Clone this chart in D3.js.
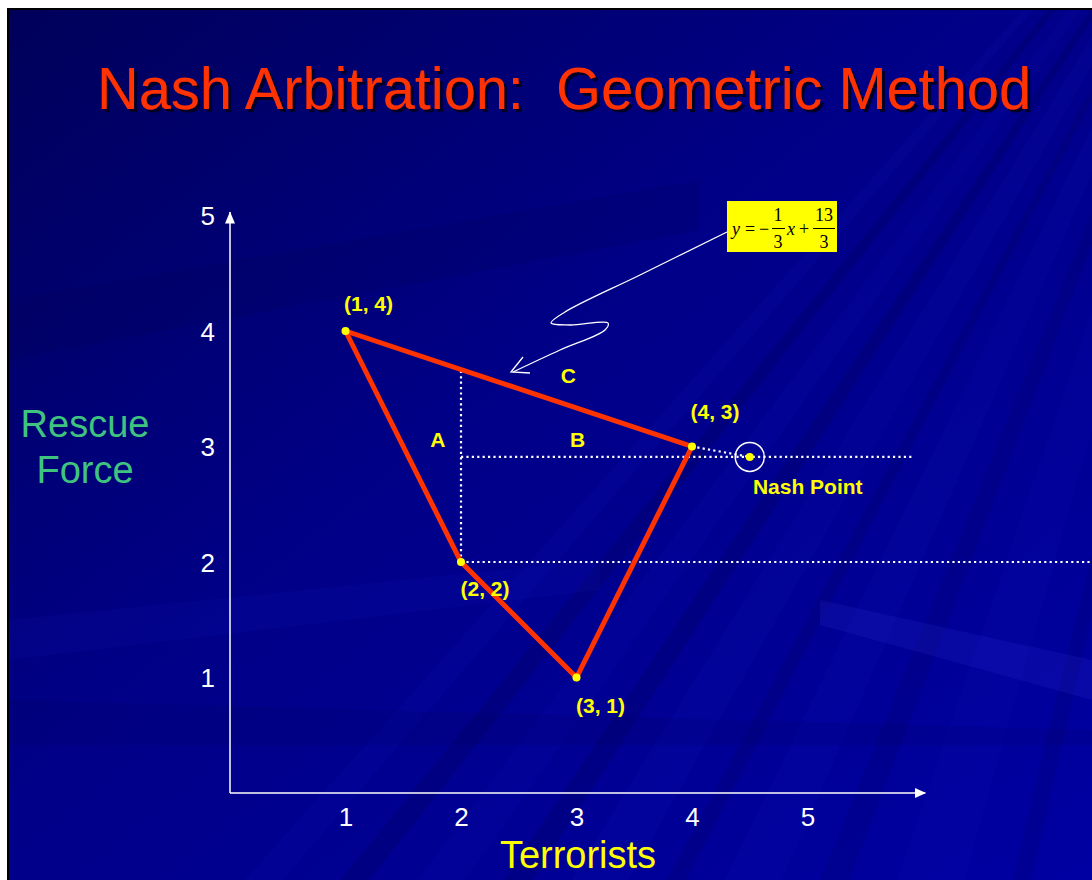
<!DOCTYPE html>
<html>
<head>
<meta charset="utf-8">
<script src="https://cdn.jsdelivr.net/npm/d3@7"></script>
<style>
  html, body { margin: 0; padding: 0; background: #fff; }
  svg { display: block; }
</style>
</head>
<body>
<div id="chart"></div>
<script>
// ---- data ----
var vertexX = [1, 4, 3, 2];
var vertexY = [4, 3, 1, 2];
var vertexLabels = ["(1, 4)", "(4, 3)", "(3, 1)", "(2, 2)"];
var statusQuo = [2, 2];
var nashPoint = [4.5, 2.91];
var xTicks = [1, 2, 3, 4, 5];
var yTicks = [1, 2, 3, 4, 5];
var regionLabels = ["A", "B", "C"];
var regionX = [1.8, 3.01, 2.93];
var regionY = [3.0, 3.0, 3.55];

var W = 1092, H = 880;
var sans = "'Liberation Sans', Arial, sans-serif";
var serif = "'Liberation Serif', 'Times New Roman', serif";
var svg = d3.select("#chart").append("svg").attr("width", W).attr("height", H)
    .style("font-family", sans);

// ---- background ----
var defs = svg.append("defs");
var bg = defs.append("linearGradient").attr("id", "bg")
    .attr("x1", "0").attr("y1", "0").attr("x2", "1").attr("y2", "1");
bg.append("stop").attr("offset", "0").attr("stop-color", "#00005a");
bg.append("stop").attr("offset", "0.45").attr("stop-color", "#000088");
bg.append("stop").attr("offset", "1").attr("stop-color", "#0000a2");

var shadow = defs.append("filter").attr("id", "shadow")
    .attr("x", "-5%").attr("y", "-20%").attr("width", "110%").attr("height", "140%");
shadow.append("feDropShadow").attr("dx", 3).attr("dy", 3).attr("stdDeviation", 0)
    .attr("flood-color", "#000028").attr("flood-opacity", 1);

svg.append("rect").attr("x", 8).attr("y", 9).attr("width", W - 8).attr("height", H - 9)
    .attr("fill", "url(#bg)");

var clip = defs.append("clipPath").attr("id", "frame");
clip.append("rect").attr("x", 8).attr("y", 9).attr("width", W - 8).attr("height", H - 9);

var rays = svg.append("g").attr("clip-path", "url(#frame)");
// faint streaks fanning out from top-right
var fx = 1300, fy = -300;
var streaks = [
  [200, 240, "#3040ff", 0.05], [300, 330, "#000030", 0.15], [380, 430, "#2030ff", 0.05],
  [470, 500, "#000030", 0.15], [540, 600, "#3040ff", 0.04], [640, 660, "#000030", 0.12],
  [700, 760, "#3040ff", 0.045], [800, 830, "#000040", 0.12], [880, 950, "#2a3aff", 0.04],
  [1000, 1020, "#000040", 0.12]
];
streaks.forEach(function (s) {
  var a0 = Math.atan2(H + 50 - fy, -fx + s[0]), a1 = Math.atan2(H + 50 - fy, -fx + s[1]);
  rays.append("path")
    .attr("d", "M" + fx + "," + fy + "L" + (fx + 2000 * Math.cos(a0)) + "," + (fy + 2000 * Math.sin(a0)) +
      "L" + (fx + 2000 * Math.cos(a1)) + "," + (fy + 2000 * Math.sin(a1)) + "Z")
    .attr("fill", s[2]).attr("opacity", s[3]);
});
// shallow bands on the left half
rays.append("path").attr("d", "M8,300L700,180L700,230L8,360Z").attr("fill", "#000040").attr("opacity", 0.12);
rays.append("path").attr("d", "M8,620L600,560L600,590L8,660Z").attr("fill", "#3040ff").attr("opacity", 0.05);
// band on the lower right
rays.append("path").attr("d", "M820,600L1092,660L1092,700L820,625Z")
    .attr("fill", "#4a5aff").attr("opacity", 0.1);
rays.append("path").attr("d", "M8,700L1092,730L1092,745L8,745Z")
    .attr("fill", "#000040").attr("opacity", 0.1);

// frame line
svg.append("path").attr("d", "M8," + H + "L8,9L" + W + ",9")
    .attr("fill", "none").attr("stroke", "#000").attr("stroke-width", 2);

// ---- title ----
svg.append("text").attr("x", 97).attr("y", 109).text("Nash Arbitration:  Geometric Method")
    .attr("font-size", 58.5).attr("fill", "#ff3300")
    .attr("textLength", 934).attr("lengthAdjust", "spacingAndGlyphs")
    .attr("filter", "url(#shadow)")
    .style("white-space", "pre");

// ---- scales ----
var x = d3.scaleLinear().domain([0, 6]).range([230, 923]);
var y = d3.scaleLinear().domain([0, 5]).range([793, 215.5]);

var g = svg.append("g");

// axes lines with arrows
g.append("line").attr("x1", x(0)).attr("y1", y(0)).attr("x2", x(6.02)).attr("y2", y(0))
    .attr("stroke", "#fff").attr("stroke-width", 1.5);
g.append("line").attr("x1", x(0)).attr("y1", y(0)).attr("x2", x(0)).attr("y2", y(5.03))
    .attr("stroke", "#fff").attr("stroke-width", 1.5);
g.append("path").attr("d", "M" + (x(6) - 8) + "," + (y(0) - 5) + "L" + (x(6) + 3) + "," + y(0) + "L" + (x(6) - 8) + "," + (y(0) + 5) + "Z")
    .attr("fill", "#fff");
g.append("path").attr("d", "M" + (x(0) - 5) + "," + (y(5) + 8) + "L" + x(0) + "," + (y(5) - 4) + "L" + (x(0) + 5) + "," + (y(5) + 8) + "Z")
    .attr("fill", "#fff");

// tick labels through d3 axes
var xAxis = g.append("g").attr("transform", "translate(0," + y(0) + ")")
    .call(d3.axisBottom(x).tickValues(xTicks).tickFormat(d3.format("d")).tickSize(0).tickPadding(15));
var yAxis = g.append("g").attr("transform", "translate(" + x(0) + ",0)")
    .call(d3.axisLeft(y).tickValues(yTicks).tickFormat(d3.format("d")).tickSize(0).tickPadding(15));
[xAxis, yAxis].forEach(function (a) {
  a.select(".domain").remove();
  a.selectAll("text").attr("fill", "#fff").attr("font-size", 26).attr("font-family", sans);
});
yAxis.selectAll("text").attr("dy", "0.36em");

// axis titles
svg.append("text").attr("x", 85).attr("y", 437).attr("text-anchor", "middle")
    .attr("font-size", 38).attr("fill", "#3fc480").text("Rescue");
svg.append("text").attr("x", 85).attr("y", 483).attr("text-anchor", "middle")
    .attr("font-size", 38).attr("fill", "#3fc480").text("Force");
svg.append("text").attr("x", 578).attr("y", 868).attr("text-anchor", "middle")
    .attr("font-size", 38).attr("fill", "#ffff00").text("Terrorists");

// ---- dotted guide lines ----
var lineAt = function (xv) { return -xv / 3 + 13 / 3; };
var dotted = function (x1, y1, x2, y2) {
  g.append("line").attr("x1", x(x1)).attr("y1", y(y1)).attr("x2", x(x2)).attr("y2", y(y2))
    .attr("stroke", "#fff").attr("stroke-width", 2.2).attr("stroke-dasharray", "2.2,3.2");
};
dotted(statusQuo[0], statusQuo[1], statusQuo[0], lineAt(statusQuo[0]));
dotted(statusQuo[0], statusQuo[1], 7.6, statusQuo[1]);
dotted(statusQuo[0], nashPoint[1], 5.92, nashPoint[1]);
dotted(vertexX[1], vertexY[1], nashPoint[0], nashPoint[1]);

// ---- feasible region ----
var pts = vertexX.map(function (v, i) { return [v, vertexY[i]]; });
g.append("path")
    .attr("d", d3.line().x(function (d) { return x(d[0]); }).y(function (d) { return y(d[1]); })(pts.concat([pts[0]])))
    .attr("fill", "none").attr("stroke", "#ff3300").attr("stroke-width", 5)
    .attr("stroke-linejoin", "miter");

g.selectAll("circle.vertex").data(pts).enter().append("circle").attr("class", "vertex")
    .attr("cx", function (d) { return x(d[0]); }).attr("cy", function (d) { return y(d[1]); })
    .attr("r", 4).attr("fill", "#ffff00");

var labelOffsets = [[23, -20], [23, -28], [24, 35], [24, 34]];
g.selectAll("text.vlabel").data(pts).enter().append("text").attr("class", "vlabel")
    .attr("x", function (d, i) { return x(d[0]) + labelOffsets[i][0]; })
    .attr("y", function (d, i) { return y(d[1]) + labelOffsets[i][1]; })
    .attr("text-anchor", "middle").attr("font-size", 21).attr("font-weight", "bold")
    .attr("fill", "#ffff00").text(function (d, i) { return vertexLabels[i]; });

g.selectAll("text.rlabel").data(regionLabels).enter().append("text").attr("class", "rlabel")
    .attr("x", function (d, i) { return x(regionX[i]); })
    .attr("y", function (d, i) { return y(regionY[i]); })
    .attr("text-anchor", "middle").attr("font-size", 21).attr("font-weight", "bold")
    .attr("fill", "#ffff00").text(function (d) { return d; });

// ---- Nash point ----
g.append("circle").attr("cx", x(nashPoint[0])).attr("cy", y(nashPoint[1])).attr("r", 14.5)
    .attr("fill", "none").attr("stroke", "#fff").attr("stroke-width", 1.5);
g.append("circle").attr("cx", x(nashPoint[0])).attr("cy", y(nashPoint[1])).attr("r", 4)
    .attr("fill", "#ffff00");
g.append("text").attr("x", x(nashPoint[0]) + 58).attr("y", y(nashPoint[1]) + 37)
    .attr("text-anchor", "middle").attr("font-size", 21).attr("font-weight", "bold")
    .attr("fill", "#ffff00").text("Nash Point");

// ---- equation callout ----
var eq = svg.append("g").attr("transform", "translate(727,201)");
eq.append("rect").attr("width", 110).attr("height", 51).attr("fill", "#ffff00");
var eqText = function (tx, ty, s, italic) {
  eq.append("text").attr("x", tx).attr("y", ty).attr("text-anchor", "middle")
    .style("font-family", serif).attr("font-size", 18)
    .attr("font-style", italic ? "italic" : "normal").attr("fill", "#000").text(s);
};
eqText(9, 34, "y", true);
eqText(23, 34, "=");
eqText(37, 34, "\u2212");
eqText(51, 20, "1");
eqText(51, 47, "3");
eq.append("line").attr("x1", 45).attr("x2", 58).attr("y1", 27.5).attr("y2", 27.5).attr("stroke", "#000").attr("stroke-width", 1);
eqText(64, 34, "x", true);
eqText(77, 34, "+");
eqText(97, 20, "13");
eqText(97, 47, "3");
eq.append("line").attr("x1", 86).attr("x2", 108).attr("y1", 27.5).attr("y2", 27.5).attr("stroke", "#000").attr("stroke-width", 1);

// squiggly arrow from the box to line C
var callout = [[727, 232], [640, 275], [565, 312], [551, 323], [570, 325], [608, 323], [605, 330], [560, 350], [513, 372]];
svg.append("path")
    .attr("d", d3.line().curve(d3.curveCatmullRom.alpha(0.5))(callout))
    .attr("fill", "none").attr("stroke", "#fff").attr("stroke-width", 1.3);
svg.append("path").attr("d", "M523,357L511,372L530,373")
    .attr("fill", "none").attr("stroke", "#fff").attr("stroke-width", 1.3);
</script>
</body>
</html>
